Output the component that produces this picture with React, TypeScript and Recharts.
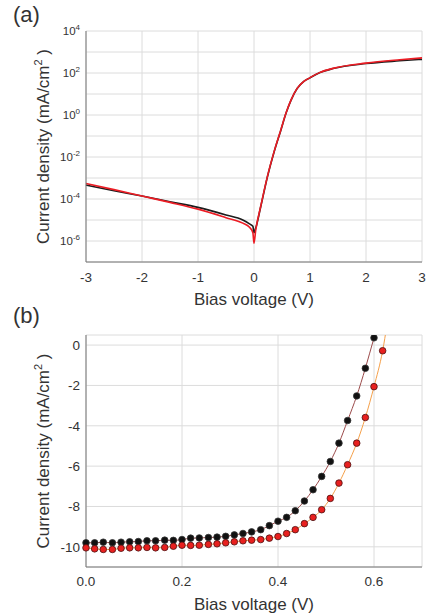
import React from "react";
import {
  ComposedChart,
  Line,
  Scatter,
  XAxis,
  YAxis,
  CartesianGrid,
  Label,
} from "recharts";

// (a) dark J-V, log scale
const biasA = [
  -3, -2.5, -2, -1.5, -1, -0.5, -0.2, -0.08, -0.02, 0, 0.03, 0.12, 0.24, 0.36,
  0.48, 0.57, 0.66, 0.77, 0.89, 1.0, 1.18, 1.41, 2.0, 2.6, 3.0,
];
const darkBlack = [
  4.6e-4, 2.45e-4, 1.38e-4, 7.4e-5, 4.0e-5, 1.74e-5, 1.0e-5, 6.5e-6, 5.0e-6,
  2.5e-6, 4.0e-6, 4.3e-5, 1.15e-3, 1.78e-2, 0.19, 1.17, 5.0, 18.2, 39.8, 58.9,
  105, 162, 282, 380, 447,
];
const darkRed = [
  5.5e-4, 2.8e-4, 1.38e-4, 6.9e-5, 3.3e-5, 1.29e-5, 7.1e-6, 4.5e-6, 2.5e-6,
  7.9e-7, 3.2e-6, 4.5e-5, 1.2e-3, 1.85e-2, 0.2, 1.2, 5.1, 18.5, 40, 60, 107,
  166, 295, 427, 525,
];
const decadeTicks = [1e-7, 1e-6, 1e-5, 1e-4, 1e-3, 1e-2, 1e-1, 1, 10, 100, 1e3, 1e4];
const biasTicksA = [-3, -2, -1, 0, 1, 2, 3];

// (b) illuminated J-V
const biasB = [
  0, 0.018, 0.036, 0.055, 0.073, 0.091, 0.109, 0.127, 0.145, 0.164, 0.182, 0.2,
  0.218, 0.236, 0.255, 0.273, 0.291, 0.309, 0.327, 0.345, 0.364, 0.382, 0.4,
  0.418, 0.436, 0.455, 0.473, 0.491, 0.509, 0.527, 0.545, 0.564, 0.582, 0.6,
  0.618,
];
const lightBlack = [
  -9.8, -9.8, -9.77, -9.8, -9.77, -9.75, -9.74, -9.7, -9.7, -9.67, -9.68,
  -9.64, -9.57, -9.56, -9.54, -9.52, -9.48, -9.41, -9.34, -9.26, -9.15, -8.95,
  -8.73, -8.54, -8.21, -7.73, -7.17, -6.51, -5.77, -4.86, -3.74, -2.52, -1.15,
  0.36,
];
const lightRed = [
  -10.05, -10.1, -10.13, -10.13, -10.07, -10.05, -10.05, -10.03, -10.05,
  -10.03, -9.97, -9.92, -9.93, -9.92, -9.88, -9.85, -9.8, -9.75, -9.7, -9.67,
  -9.64, -9.57, -9.49, -9.34, -9.15, -8.85, -8.54, -8.16, -7.6, -6.84, -5.93,
  -4.86, -3.59, -2.06, -0.28,
];
// fitted curves run a little past the last measured point
const fitBlackEnd = { v: 0.618, j: 1.8 };
const fitRedEnd = { v: 0.636, j: 2.5 };
const currentTicksB = [-10, -8, -6, -4, -2, 0];
const biasTicksB = [0, 0.2, 0.4, 0.6];

const seriesA = (ys: number[]) => biasA.map((v, i) => ({ v, j: ys[i] }));
const seriesB = (ys: number[]) => ys.map((j, i) => ({ v: biasB[i], j }));

const FRAME = "#777";
const GRID = "#dcdcdc";
const TXT = "#333";
const TICK = { fontSize: 13.5, fill: TXT };

const LogTick = (props: any) => {
  const { x, y, payload } = props;
  const e = Math.round(Math.log10(payload.value));
  if (e % 2 !== 0) return <g />;
  return (
    <text x={x} y={y + 4} textAnchor="end" fontSize={11.5} fill={TXT}>
      10
      <tspan dy={-5} fontSize={8}>
        {e}
      </tspan>
    </text>
  );
};

const yTitle = (props: any) => {
  const vb = props.viewBox;
  const cx = vb.x + 43;
  const cy = vb.y + vb.height / 2;
  return (
    <text
      x={cx}
      y={cy + 6}
      transform={`rotate(-90, ${cx}, ${cy})`}
      textAnchor="middle"
      fontSize={17}
      fill={TXT}
    >
      Current density (mA/cm
      <tspan dy={-7} fontSize={11}>
        2
      </tspan>
      <tspan dy={7}> )</tspan>
    </text>
  );
};

const xTitle = (props: any) => {
  const vb = props.viewBox;
  return (
    <text
      x={vb.x + vb.width / 2}
      y={vb.y + 43}
      textAnchor="middle"
      fontSize={17}
      fill={TXT}
    >
      Bias voltage (V)
    </text>
  );
};

const dot = (fill: string, stroke: string) => (p: any) =>
  <circle cx={p.cx} cy={p.cy} r={3.3} fill={fill} stroke={stroke} strokeWidth={0.8} />;

function PanelA() {
  return (
    <ComposedChart width={427} height={314} margin={{ top: 31, right: 5, bottom: 0, left: 0 }}>
      <CartesianGrid stroke={GRID} strokeWidth={1} />
      <XAxis
        dataKey="v"
        type="number"
        domain={[-3, 3]}
        ticks={biasTicksA}
        height={52}
        tickLine={false}
        tickSize={0}
        tickMargin={10}
        axisLine={{ stroke: FRAME }}
        tick={TICK}
        allowDuplicatedCategory={false}
      >
        <Label content={xTitle} />
      </XAxis>
      <XAxis xAxisId="top" orientation="top" type="number" domain={[-3, 3]} height={0} tick={false} tickLine={false} axisLine={{ stroke: FRAME }} />
      <YAxis
        dataKey="j"
        scale="log"
        type="number"
        domain={[1e-7, 1e4]}
        allowDataOverflow
        ticks={decadeTicks}
        width={86}
        tickLine={false}
        tickSize={0}
        tickMargin={6}
        axisLine={{ stroke: FRAME }}
        tick={<LogTick />}
        interval={0}
      >
        <Label content={yTitle} />
      </YAxis>
      <YAxis yAxisId="right" orientation="right" type="number" domain={[0, 1]} width={0} tick={false} tickLine={false} axisLine={{ stroke: FRAME }} />
      <Line data={seriesA(darkBlack)} dataKey="j" type="monotone" stroke="#1c1c1c" strokeWidth={1.6} dot={false} isAnimationActive={false} />
      <Line data={seriesA(darkRed)} dataKey="j" type="monotone" stroke="#ec1c24" strokeWidth={1.6} dot={false} isAnimationActive={false} />
    </ComposedChart>
  );
}

function PanelB() {
  const black = seriesB(lightBlack);
  const red = seriesB(lightRed);
  return (
    <ComposedChart width={427} height={314} margin={{ top: 35, right: 5, bottom: 0, left: 0 }}>
      <CartesianGrid stroke={GRID} strokeWidth={1} />
      <XAxis
        dataKey="v"
        type="number"
        domain={[0, 0.7]}
        ticks={biasTicksB}
        height={47}
        tickLine={false}
        tickSize={0}
        tickMargin={9}
        axisLine={{ stroke: FRAME }}
        tick={TICK}
        tickFormatter={(v: number) => v.toFixed(1)}
        allowDuplicatedCategory={false}
      >
        <Label content={xTitle} />
      </XAxis>
      <XAxis xAxisId="top" orientation="top" type="number" domain={[0, 0.7]} height={0} tick={false} tickLine={false} axisLine={{ stroke: FRAME }} />
      <YAxis
        dataKey="j"
        type="number"
        domain={[-11, 0.5]}
        allowDataOverflow
        ticks={currentTicksB}
        width={86}
        tickLine={false}
        tickSize={0}
        tickMargin={6}
        axisLine={{ stroke: FRAME }}
        tick={TICK}
        interval={0}
      >
        <Label content={yTitle} />
      </YAxis>
      <YAxis yAxisId="right" orientation="right" type="number" domain={[0, 1]} width={0} tick={false} tickLine={false} axisLine={{ stroke: FRAME }} />
      <Line data={[...black, fitBlackEnd]} dataKey="j" type="monotone" stroke="#9b4a4a" strokeWidth={1} dot={false} isAnimationActive={false} />
      <Line data={[...red, fitRedEnd]} dataKey="j" type="monotone" stroke="#f5a04a" strokeWidth={1} dot={false} isAnimationActive={false} />
      <Scatter data={black} dataKey="j" shape={dot("#111", "#333")} isAnimationActive={false} />
      <Scatter data={red} dataKey="j" shape={dot("#e8201f", "#4a1010")} isAnimationActive={false} />
    </ComposedChart>
  );
}

export default function App() {
  const tag: React.CSSProperties = { position: "absolute", left: 13, fontSize: 22, color: TXT };
  return (
    <div
      style={{
        position: "absolute",
        left: 0,
        top: 0,
        width: 427,
        height: 614,
        background: "#fff",
        fontFamily: '"Liberation Sans", Arial, sans-serif',
      }}
    >
      <div style={{ ...tag, top: 2 }}>(a)</div>
      <div style={{ ...tag, top: 303 }}>(b)</div>
      <div style={{ position: "absolute", left: 0, top: 0 }}>
        <PanelA />
      </div>
      <div style={{ position: "absolute", left: 0, top: 300 }}>
        <PanelB />
      </div>
    </div>
  );
}
